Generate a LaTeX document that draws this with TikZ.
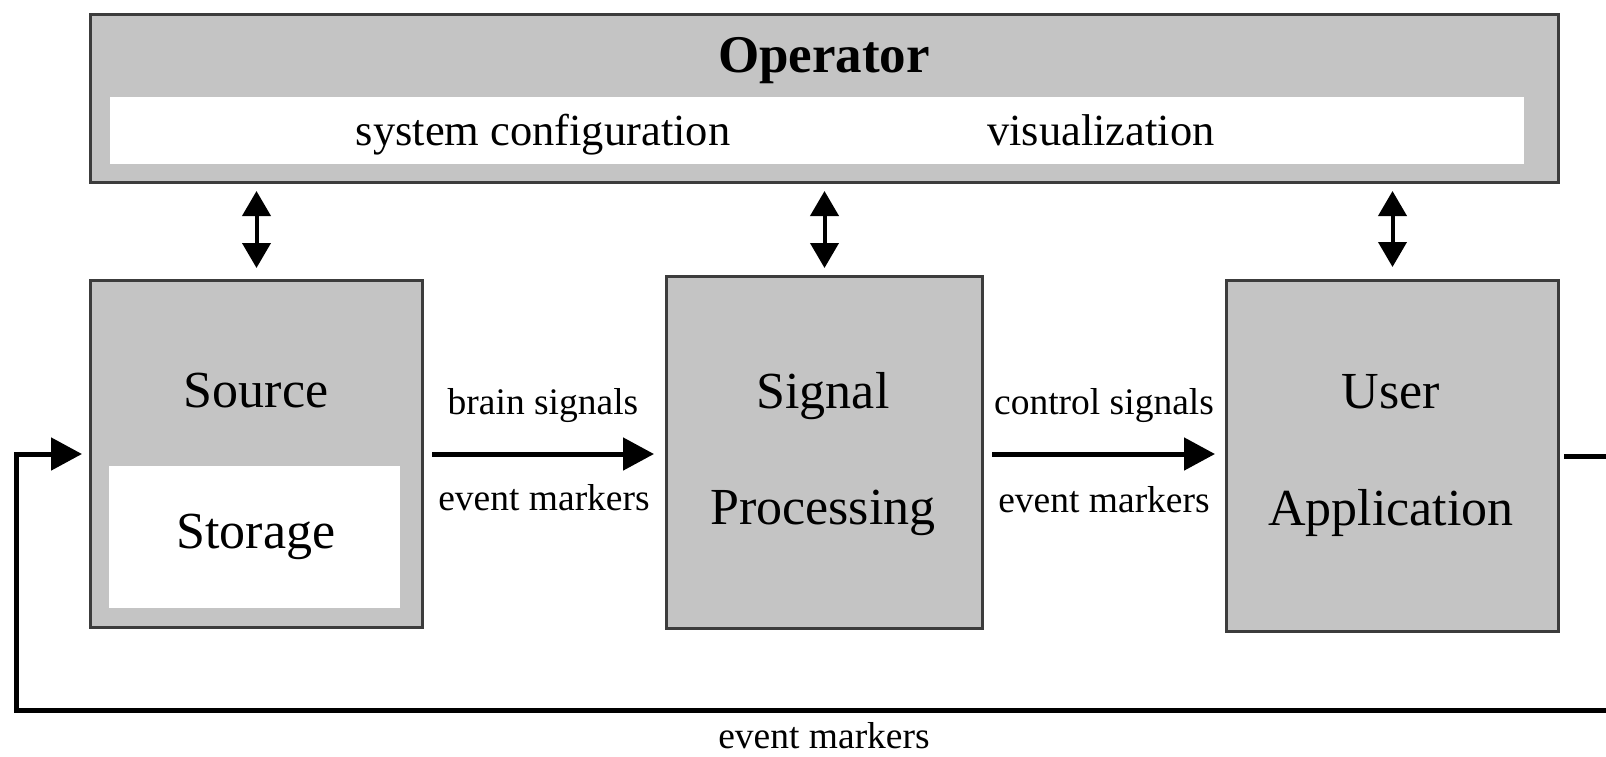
\documentclass[tikz,border=0pt]{standalone}
\usepackage{fontspec}
\setmainfont{Liberation Serif}
\usetikzlibrary{arrows.meta}
\definecolor{boxgray}{RGB}{196,196,196}
\definecolor{edgegray}{RGB}{60,60,60}
\begin{document}
\begin{tikzpicture}[x=1pt,y=-1pt,
  box/.style={draw=edgegray, line width=3pt, fill=boxgray, inner sep=0pt, anchor=north west},
  whitebox/.style={fill=white, inner sep=0pt, anchor=north west},
  bigtxt/.style={font=\fontsize{52}{60}\selectfont, anchor=base, inner sep=0pt},
  midtxt/.style={font=\fontsize{44.5}{52}\selectfont, anchor=base, inner sep=0pt},
  smalltxt/.style={font=\fontsize{37.5}{44}\selectfont, anchor=base, inner sep=0pt},
  flow/.style={line width=5pt, -{Triangle[length=31pt,width=32pt]}},
  dbl/.style={line width=4pt, {Triangle[length=25pt,width=28pt]}-{Triangle[length=25pt,width=28pt]}}
]
\useasboundingbox (0,0) rectangle (1606,756);

% boxes
\node[box, minimum width=1468pt, minimum height=168pt] (op) at (89,13) {};
\node[whitebox, minimum width=1414pt, minimum height=67pt] (opw) at (110,97) {};
\node[box, minimum width=332pt, minimum height=347pt] (src) at (89,279) {};
\node[whitebox, minimum width=291pt, minimum height=142pt] (sto) at (109,466) {};
\node[box, minimum width=316pt, minimum height=352pt] (sp) at (665,275) {};
\node[box, minimum width=332pt, minimum height=351pt] (ua) at (1225,279) {};

% texts
\node[bigtxt, font=\fontsize{53}{60}\selectfont\bfseries] (optxt) at (824,72) {Operator};
\node[midtxt] (cfg) at (543,145) {system configuration};
\node[midtxt] (vis) at (1101,145) {visualization};
\node[bigtxt] (srctxt) at (256,407) {Source};
\node[bigtxt] (stotxt) at (256,548) {Storage};
\node[bigtxt] (sptxt1) at (823,408) {Signal};
\node[bigtxt] (sptxt2) at (823,524) {Processing};
\node[bigtxt] (uatxt1) at (1391,408) {User};
\node[bigtxt] (uatxt2) at (1391,525) {Application};
\node[smalltxt] (l1a) at (543,414) {brain signals};
\node[smalltxt] (l1b) at (544,510) {event markers};
\node[smalltxt] (l2a) at (1104,414) {control signals};
\node[smalltxt] (l2b) at (1104,512) {event markers};
\node[smalltxt] (l3) at (824,748) {event markers};

% double arrows
\draw[dbl, shorten <=7pt, shorten >=11pt] (src.north |- op.south) -- (src.north);
\draw[dbl, shorten <=7pt, shorten >=7pt] (sp.north |- op.south) -- (sp.north);
\draw[dbl, shorten <=7pt, shorten >=12pt] (ua.north |- op.south) -- (ua.north);

% flow arrows
\draw[flow, shorten <=8pt, shorten >=11pt] (src.east) -- (src.east -| sp.west);
\draw[flow, shorten <=8pt, shorten >=10pt] (sp.east |- src.east) -- (src.east -| ua.west);

% feedback loop
\coordinate (fbR) at (1640,710);
\coordinate (fbL) at (16,710);
\draw[flow, line cap=butt, shorten <=4pt, shorten >=7pt]
  (ua.east) -- (ua.east -| fbR) -- (fbR) -- (fbL) -- (fbL |- src.west) -- (src.west);
\end{tikzpicture}
\end{document}
